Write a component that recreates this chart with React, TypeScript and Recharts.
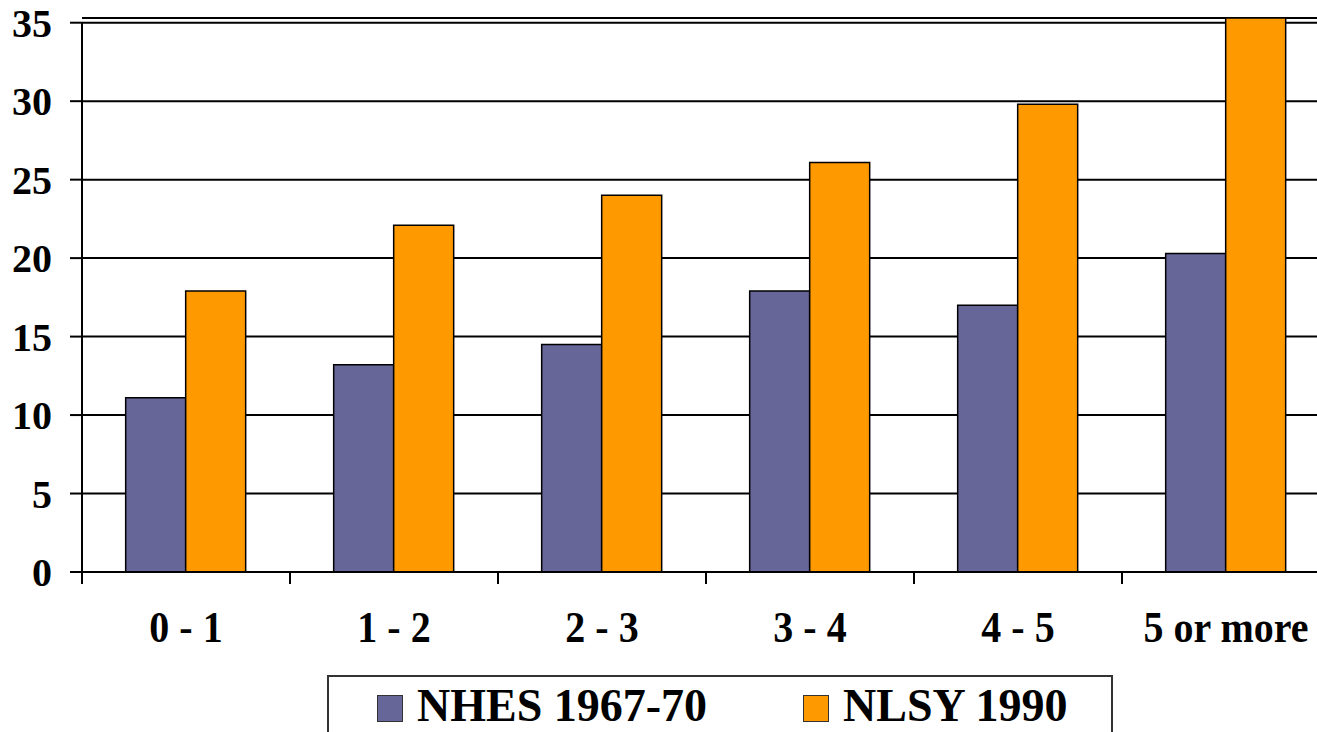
import React from "react";
import { BarChart, Bar, XAxis, YAxis, CartesianGrid, ReferenceLine } from "recharts";

const categories = ["0 - 1", "1 - 2", "2 - 3", "3 - 4", "4 - 5", "5 or more"];
const nhes = [11.1, 13.2, 14.5, 17.9, 17.0, 20.3];
const nlsy = [17.9, 22.1, 24.0, 26.1, 29.8, 35.3];
const yTicks = [0, 5, 10, 15, 20, 25, 30, 35];

const series = [
  { key: "nhes", label: "NHES 1967-70", color: "#666699" },
  { key: "nlsy", label: "NLSY 1990", color: "#FF9900" },
];

const data = categories.map((name, i) => ({ name, nhes: nhes[i], nlsy: nlsy[i] }));

const FONT = "'Liberation Serif', 'Times New Roman', serif";

function CategoryTick(props: any) {
  const { x, y, payload } = props;
  const half = payload.offset ?? 104;
  return (
    <g>
      <line x1={x - half} x2={x - half} y1={y} y2={y + 12} stroke="#000" strokeWidth={2} />
      <text
        transform={`translate(${x},${y + 70}) scale(1,1.1)`}
        textAnchor="middle"
        fontFamily={FONT}
        fontWeight="bold"
        fontSize={40}
        fill="#000"
      >
        {payload.value}
      </text>
    </g>
  );
}

export default function App() {
  return (
    <div style={{ position: "relative", width: 1317, height: 732, overflow: "hidden", background: "#fff" }}>
      <style>{`body{margin:0;overflow:hidden}`}</style>
      <BarChart
        width={1330}
        height={732}
        data={data}
        margin={{ top: 18, right: 0, left: 0, bottom: 60 }}
        barCategoryGap="21%"
        barGap={0}
      >
        <CartesianGrid vertical={false} stroke="#000" strokeWidth={2} />
        <XAxis
          dataKey="name"
          height={100}
          axisLine={{ stroke: "#000", strokeWidth: 2 }}
          tickLine={false}
          tickSize={0}
          tickMargin={0}
          interval={0}
          tick={<CategoryTick />}
        />
        {/* numeric twin of the category axis, only used to place the y-axis line */}
        <XAxis xAxisId="n" type="number" domain={[0, categories.length]} hide />
        <YAxis
          width={82}
          domain={[0, 35.3]}
          ticks={yTicks}
          interval={0}
          axisLine={false}
          tickLine={{ stroke: "#000", strokeWidth: 2 }}
          tickSize={12}
          tickMargin={18}
          tick={{ fill: "#000", fontFamily: FONT, fontWeight: "bold", fontSize: 40 }}
        />
        {series.map((s) => (
          <Bar
            key={s.key}
            dataKey={s.key}
            fill={s.color}
            stroke="#000"
            strokeWidth={1.5}
            isAnimationActive={false}
          />
        ))}
        <ReferenceLine
          xAxisId="n"
          segment={[{ x: 0, y: 0 }, { x: 0, y: 35 }]}
          stroke="#000"
          strokeWidth={2}
        />
      </BarChart>
      <div
        style={{
          position: "absolute",
          left: 327,
          top: 675,
          width: 786,
          height: 100,
          border: "2px solid #333",
          boxSizing: "border-box",
          background: "#fff",
        }}
      >
        {series.map((s, i) => (
          <div key={s.key} style={{ position: "absolute", left: i === 0 ? 48 : 474, top: 6, display: "flex", alignItems: "flex-start" }}>
            <span
              style={{
                display: "inline-block",
                width: 26,
                height: 27,
                marginTop: 12,
                background: s.color,
                border: "1px solid #333",
                boxSizing: "border-box",
              }}
            />
            <span
              style={{
                marginLeft: 14,
                fontFamily: FONT,
                fontWeight: "bold",
                fontSize: 46,
                lineHeight: 1,
                color: "#000",
                whiteSpace: "nowrap",
              }}
            >
              {s.label}
            </span>
          </div>
        ))}
      </div>
    </div>
  );
}
